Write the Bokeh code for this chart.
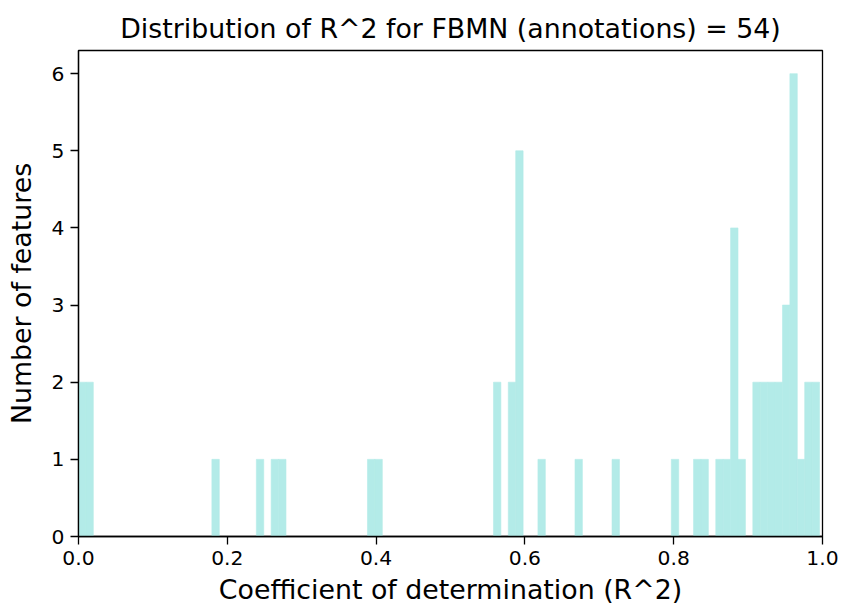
import numpy as np
from bokeh.plotting import figure
from bokeh.models import FixedTicker, CustomJSTickFormatter, Range1d, ColumnDataSource
from bokeh.embed import file_html
from bokeh.resources import INLINE

# ---- data ----
r2_min = 0.0
r2_max = 0.996
n_bins = 100
# non-empty bins (bin number) and the number of features in each
bin_numbers = [0, 1, 18, 24, 26, 27, 39, 40, 56, 58, 59, 62, 67, 72,
               80, 83, 84, 86, 87, 88, 89, 91, 92, 93, 94, 95, 96, 97, 98, 99]
bin_counts = [2, 2, 1, 1, 1, 1, 1, 1, 2, 2, 5, 1, 1, 1,
              1, 1, 1, 1, 1, 4, 1, 2, 2, 2, 2, 3, 6, 1, 2, 2]
x_ticks = [0.0, 0.2, 0.4, 0.6, 0.8, 1.0]
y_ticks = [0, 1, 2, 3, 4, 5, 6]
title_text = "Distribution of R^2 for FBMN (annotations) = {})".format(sum(bin_counts))
x_label = "Coefficient of determination (R^2)"
y_label = "Number of features"

edges = np.linspace(r2_min, r2_max, n_bins + 1)
lefts = [edges[i] for i in bin_numbers]
rights = [edges[i + 1] for i in bin_numbers]
src = ColumnDataSource(dict(left=lefts, right=rights, top=bin_counts,
                            bottom=[0] * len(bin_counts)))

FONT = "DejaVu Sans"
FS_TICK = "20.3px"
FS_LABEL = "26.8px"
BAR = "#B3EBE8"

p = figure(width=843, height=607, output_backend="svg", toolbar_location=None,
           x_range=Range1d(0, 1), y_range=Range1d(0, 6.3))
p.min_border_left = 78
p.min_border_right = 21
p.min_border_top = 50
p.min_border_bottom = 71
p.background_fill_color = "white"
p.border_fill_color = "white"
p.outline_line_color = "black"
p.outline_line_width = 1.3
p.xgrid.visible = False
p.ygrid.visible = False

p.quad(left="left", right="right", top="top", bottom="bottom", source=src,
       fill_color=BAR, line_color=BAR, line_width=0.6)

p.title.text = title_text
p.title.align = "center"
p.title.text_font = FONT
p.title.text_font_size = FS_LABEL
p.title.text_font_style = "normal"
p.title.text_color = "black"
p.title.standoff = 13

for ax in (p.xaxis[0], p.yaxis[0]):
    ax.axis_line_color = "black"
    ax.axis_line_width = 1.3
    ax.major_tick_line_color = "black"
    ax.major_tick_line_width = 1.3
    ax.major_tick_out = 8
    ax.major_tick_in = 0
    ax.minor_tick_out = 0
    ax.minor_tick_in = 0
    ax.major_label_text_font = FONT
    ax.major_label_text_font_size = FS_TICK
    ax.major_label_text_color = "black"
    ax.axis_label_text_font = FONT
    ax.axis_label_text_font_size = FS_LABEL
    ax.axis_label_text_font_style = "normal"
    ax.axis_label_text_color = "black"

p.xaxis.ticker = FixedTicker(ticks=x_ticks)
p.xaxis.formatter = CustomJSTickFormatter(code="return tick.toFixed(1);")
p.xaxis.axis_label = x_label
p.xaxis.major_label_standoff = 6
p.xaxis.axis_label_standoff = 6

p.yaxis.ticker = FixedTicker(ticks=y_ticks)
p.yaxis.axis_label = y_label
p.yaxis.major_label_standoff = 6
p.yaxis.axis_label_standoff = 12

open("out.html", "w").write(file_html(p, INLINE))
